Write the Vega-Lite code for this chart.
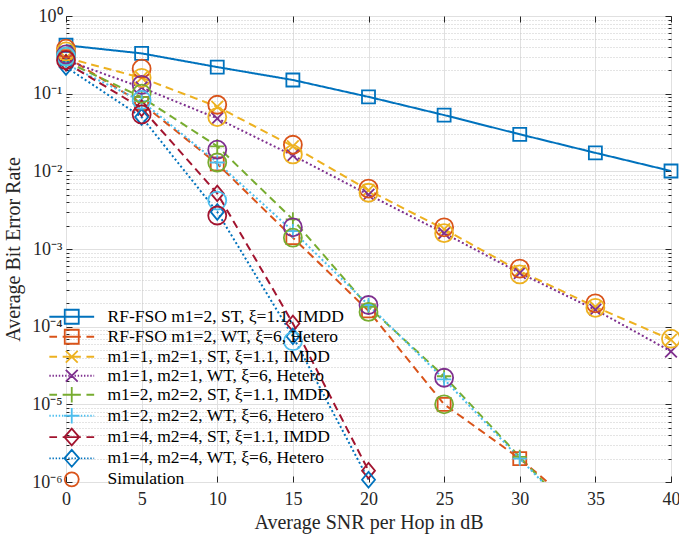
{
"$schema":"https://vega.github.io/schema/vega-lite/v6.json",
"width":605,"height":466,
"autosize":{"type":"none"},
"padding":{"left":66,"top":16,"right":8,"bottom":53},
"config":{"view":{"stroke":"#262626","strokeWidth":1},"font":"Liberation Serif",
"axis":{"labelFont":"Liberation Serif","titleFont":"Liberation Serif","labelColor":"#262626","titleColor":"#262626","tickColor":"#262626","domainColor":"#262626","labelFontSize":18,"titleFontSize":20,"titleFontWeight":"normal","labelOverlap":false,"labelFlush":false}},
"datasets":{
"model":[
{"s":"a","x":0,"y":0.42},{"s":"a","x":5,"y":0.33},{"s":"a","x":10,"y":0.22},{"s":"a","x":15,"y":0.15},{"s":"a","x":20,"y":0.091},{"s":"a","x":25,"y":0.053},{"s":"a","x":30,"y":0.030},{"s":"a","x":35,"y":0.0173},{"s":"a","x":40,"y":0.0101},
{"s":"b","x":0,"y":0.30},{"s":"b","x":5,"y":0.075},{"s":"b","x":10,"y":0.0125},{"s":"b","x":15,"y":0.0014},{"s":"b","x":20,"y":0.00016},{"s":"b","x":25,"y":0.00001},{"s":"b","x":30,"y":0.000002},{"s":"b","x":35,"y":0.0000003},
{"s":"c","x":0,"y":0.29},{"s":"c","x":5,"y":0.16},{"s":"c","x":10,"y":0.068},{"s":"c","x":15,"y":0.021},{"s":"c","x":20,"y":0.0057},{"s":"c","x":25,"y":0.0018},{"s":"c","x":30,"y":0.00052},{"s":"c","x":35,"y":0.00018},{"s":"c","x":40,"y":0.000068},
{"s":"d","x":0,"y":0.27},{"s":"d","x":5,"y":0.12},{"s":"d","x":10,"y":0.048},{"s":"d","x":15,"y":0.016},{"s":"d","x":20,"y":0.005},{"s":"d","x":25,"y":0.0016},{"s":"d","x":30,"y":0.00049},{"s":"d","x":35,"y":0.000165},{"s":"d","x":40,"y":0.000048},
{"s":"e","x":0,"y":0.26},{"s":"e","x":5,"y":0.09},{"s":"e","x":10,"y":0.021},{"s":"e","x":15,"y":0.0024},{"s":"e","x":20,"y":0.00018},{"s":"e","x":25,"y":0.000023},{"s":"e","x":30,"y":0.0000021},{"s":"e","x":35,"y":0.0000002},
{"s":"f","x":0,"y":0.24},{"s":"f","x":5,"y":0.08},{"s":"f","x":10,"y":0.013},{"s":"f","x":15,"y":0.0017},{"s":"f","x":20,"y":0.00019},{"s":"f","x":25,"y":0.000021},{"s":"f","x":30,"y":0.000002},{"s":"f","x":35,"y":0.0000002},
{"s":"g","x":0,"y":0.25},{"s":"g","x":5,"y":0.065},{"s":"g","x":10,"y":0.0052},{"s":"g","x":15,"y":0.00011},{"s":"g","x":20,"y":0.0000014},
{"s":"h","x":0,"y":0.22},{"s":"h","x":5,"y":0.05},{"s":"h","x":10,"y":0.003},{"s":"h","x":15,"y":0.000075},{"s":"h","x":20,"y":0.00000107}
],
"sim":[
{"k":"s1","x":0,"y":0.38},{"k":"s1","x":5,"y":0.21},{"k":"s1","x":10,"y":0.072},{"k":"s1","x":15,"y":0.022},{"k":"s1","x":20,"y":0.006},{"k":"s1","x":25,"y":0.0019},{"k":"s1","x":30,"y":0.00056},{"k":"s1","x":35,"y":0.0002},
{"k":"s2","x":0,"y":0.35},{"k":"s2","x":5,"y":0.16},{"k":"s2","x":10,"y":0.05},{"k":"s2","x":15,"y":0.0165},{"k":"s2","x":20,"y":0.0053},{"k":"s2","x":25,"y":0.0016},{"k":"s2","x":30,"y":0.00047},{"k":"s2","x":35,"y":0.000175},{"k":"s2","x":40,"y":0.00007},
{"k":"s3","x":0,"y":0.32},{"k":"s3","x":5,"y":0.13},{"k":"s3","x":10,"y":0.019},{"k":"s3","x":15,"y":0.0019},{"k":"s3","x":20,"y":0.00019},{"k":"s3","x":25,"y":0.000022},
{"k":"s4","x":0,"y":0.30},{"k":"s4","x":5,"y":0.10},{"k":"s4","x":10,"y":0.013},{"k":"s4","x":15,"y":0.0014},{"k":"s4","x":20,"y":0.000155},{"k":"s4","x":25,"y":0.00001},
{"k":"s5","x":0,"y":0.30},{"k":"s5","x":5,"y":0.083},{"k":"s5","x":10,"y":0.0042},{"k":"s5","x":15,"y":0.000065},
{"k":"s6","x":0,"y":0.27},{"k":"s6","x":5,"y":0.054},{"k":"s6","x":10,"y":0.0027}
]
},
"layer":[
{"data":{"name":"model"},
 "mark":{"type":"line","strokeWidth":2,"clip":true},
 "encoding":{
  "x":{"field":"x","type":"quantitative","scale":{"domain":[0,40],"nice":false,"zero":false},
   "axis":{"orient":"bottom","values":[0,5,10,15,20,25,30,35,40],"grid":true,"gridColor":"#e0e0e0","gridWidth":1,"tickSize":-6,"labelPadding":14,"domain":false,"title":"Average SNR per Hop in dB","titlePadding":4}},
  "y":{"field":"y","type":"quantitative","scale":{"type":"log","domain":[0.000001,1],"nice":false},
   "axis":{"orient":"left","grid":false,"domain":false,"title":"Average Bit Error Rate","titlePadding":8,
    "values":[1,0.9,0.8,0.7,0.6,0.5,0.4,0.3,0.2,0.1,0.09,0.08,0.07,0.06,0.05,0.04,0.03,0.02,0.01,0.009,0.008,0.007,0.006,0.005,0.004,0.003,0.002,0.001,0.0009,0.0008,0.0007,0.0006,0.0005,0.0004,0.0003,0.0002,0.0001,0.00009,0.00008,0.00007,0.00006,0.00005,0.00004,0.00003,0.00002,0.00001,0.000009,0.000008,0.000007,0.000006,0.000005,0.000004,0.000003,0.000002,0.000001],
    "tickSize":{"condition":{"test":"abs(log(datum.value)/LN10 - round(log(datum.value)/LN10)) < 0.001","value":-6},"value":-3},
    "labelPadding":10,
    "labelExpr":"abs(log(datum.value)/LN10 - round(log(datum.value)/LN10)) < 0.001 ? '10' + ['⁰','⁻¹','⁻²','⁻³','⁻⁴','⁻⁵','⁻⁶'][-round(log(datum.value)/LN10)] : ''"}},
  "color":{"field":"s","type":"nominal","legend":null,"scale":{"domain":["a","b","c","d","e","f","g","h"],"range":["#0072BD","#D95319","#EDB120","#7E2F8E","#77AC30","#4DBEEE","#A2142F","#0072BD"]}},
  "strokeDash":{"field":"s","type":"nominal","legend":null,"scale":{"domain":["a","b","c","d","e","f","g","h"],"range":[[1,0],[8,5],[8,5],[2,2.5],[8,5],[2,2.5],[8,5],[2,2.5]]}}
 }},
{"data":{"name":"model"},
 "transform":[{"filter":"datum.y >= 0.000001"}],
 "mark":{"type":"point","filled":false,"size":169,"strokeWidth":1.8,"opacity":1},
 "encoding":{
  "x":{"field":"x","type":"quantitative","axis":null},
  "y":{"field":"y","type":"quantitative","axis":null},
  "color":{"field":"s","type":"nominal","legend":null,"scale":{"domain":["a","b","c","d","e","f","g","h"],"range":["#0072BD","#D95319","#EDB120","#7E2F8E","#77AC30","#4DBEEE","#A2142F","#0072BD"]}},
  "shape":{"field":"s","type":"nominal","legend":null,"scale":{"domain":["a","b","c","d","e","f","g","h"],"range":["M-1,-1H1V1H-1Z","M-1,-1H1V1H-1Z","M-0.9,-0.9L0.9,0.9M-0.9,0.9L0.9,-0.9","M-0.9,-0.9L0.9,0.9M-0.9,0.9L0.9,-0.9","M-1.1,0H1.1M0,-1.1V1.1","M-1.1,0H1.1M0,-1.1V1.1","M0,-1.2L1,0L0,1.2L-1,0Z","M0,-1.2L1,0L0,1.2L-1,0Z"]}}
 }},
{"data":{"name":"sim"},
 "mark":{"type":"point","filled":false,"shape":"circle","size":324,"strokeWidth":1.8,"opacity":1},
 "encoding":{
  "x":{"field":"x","type":"quantitative","axis":null},
  "y":{"field":"y","type":"quantitative","axis":null},
  "color":{"field":"k","type":"nominal","legend":null,"scale":{"domain":["s1","s2","s3","s4","s5","s6"],"range":["#D95319","#EDB120","#7E2F8E","#77AC30","#4DBEEE","#A2142F"]}}
 }},
{"data":{"name":"model"},
 "mark":{"type":"point","opacity":0},
 "encoding":{
  "x":{"field":"x","type":"quantitative","axis":{"orient":"top","values":[0,5,10,15,20,25,30,35,40],"labels":false,"grid":false,"domain":false,"tickSize":-6,"title":null}},
  "y":{"field":"y","type":"quantitative","axis":{"orient":"right","labels":false,"domain":false,"title":null,"grid":true,
    "values":[1,0.9,0.8,0.7,0.6,0.5,0.4,0.3,0.2,0.1,0.09,0.08,0.07,0.06,0.05,0.04,0.03,0.02,0.01,0.009,0.008,0.007,0.006,0.005,0.004,0.003,0.002,0.001,0.0009,0.0008,0.0007,0.0006,0.0005,0.0004,0.0003,0.0002,0.0001,0.00009,0.00008,0.00007,0.00006,0.00005,0.00004,0.00003,0.00002,0.00001,0.000009,0.000008,0.000007,0.000006,0.000005,0.000004,0.000003,0.000002,0.000001],
    "tickSize":{"condition":{"test":"abs(log(datum.value)/LN10 - round(log(datum.value)/LN10)) < 0.001","value":-6},"value":-3},
    "gridDash":{"condition":{"test":"abs(log(datum.value)/LN10 - round(log(datum.value)/LN10)) < 0.001","value":[]},"value":[1,2]},
    "gridColor":{"condition":{"test":"abs(log(datum.value)/LN10 - round(log(datum.value)/LN10)) < 0.001","value":"#e0e0e0"},"value":"#c8c8c8"},
    "gridWidth":1}}
 }},
{"data":{"values":[]},
 "mark":{"type":"point","filled":false,"opacity":1},
 "encoding":{
  "stroke":{"field":"leg","type":"nominal","scale":{"domain":["RF-FSO m1=2, ST, ξ=1.1, IMDD","RF-FSO m1=2, WT, ξ=6, Hetero","m1=1, m2=1, ST, ξ=1.1, IMDD","m1=1, m2=1, WT, ξ=6, Hetero","m1=2, m2=2, ST, ξ=1.1, IMDD","m1=2, m2=2, WT, ξ=6, Hetero","m1=4, m2=4, ST, ξ=1.1, IMDD","m1=4, m2=4, WT, ξ=6, Hetero","Simulation"],"range":["#0072BD","#D95319","#EDB120","#7E2F8E","#77AC30","#4DBEEE","#A2142F","#0072BD","#D95319"]},
   "legend":{"orient":"none","legendX":-3,"legendY":292,"title":null,"padding":0,"labelFont":"Liberation Serif","labelFontSize":17.5,"labelColor":"#000000","labelLimit":400,"symbolSize":196,"symbolStrokeWidth":1.8,"symbolFillColor":"transparent","labelOffset":27,"rowPadding":-3.7}},
  "shape":{"field":"leg","type":"nominal","scale":{"domain":["RF-FSO m1=2, ST, ξ=1.1, IMDD","RF-FSO m1=2, WT, ξ=6, Hetero","m1=1, m2=1, ST, ξ=1.1, IMDD","m1=1, m2=1, WT, ξ=6, Hetero","m1=2, m2=2, ST, ξ=1.1, IMDD","m1=2, m2=2, WT, ξ=6, Hetero","m1=4, m2=4, ST, ξ=1.1, IMDD","m1=4, m2=4, WT, ξ=6, Hetero","Simulation"],"range":[
   "M-3.2,0H3.2M-1,-1H1V1H-1Z",
   "M-3.2,0H-2.1M-1.3,0H1.3M2.1,0H3.2M-1,-1H1V1H-1Z",
   "M-3.2,0H-2.1M-1.3,0H1.3M2.1,0H3.2M-0.85,-0.85L0.85,0.85M-0.85,0.85L0.85,-0.85",
   "M-3.2,0h0.2M-2.75,0h0.2M-2.3,0h0.2M-1.85,0h0.2M-1.4,0h0.2M-0.95,0h0.2M-0.5,0h0.2M-0.05,0h0.2M0.4,0h0.2M0.85,0h0.2M1.3,0h0.2M1.75,0h0.2M2.2,0h0.2M2.65,0h0.2M3.1,0h0.1M-0.85,-0.85L0.85,0.85M-0.85,0.85L0.85,-0.85",
   "M-3.2,0H-2.1M-1.3,0H1.3M2.1,0H3.2M0,-1.1V1.1",
   "M-3.2,0h0.2M-2.75,0h0.2M-2.3,0h0.2M-1.85,0h0.2M-1.4,0h0.2M-0.95,0h0.2M-0.5,0h0.2M-0.05,0h0.2M0.4,0h0.2M0.85,0h0.2M1.3,0h0.2M1.75,0h0.2M2.2,0h0.2M2.65,0h0.2M3.1,0h0.1M-1.1,0H1.1M0,-1.1V1.1",
   "M-3.2,0H-2.1M-1.3,0H1.3M2.1,0H3.2M0,-1.2L1.05,0L0,1.2L-1.05,0Z",
   "M-3.2,0h0.2M-2.75,0h0.2M-2.3,0h0.2M-1.85,0h0.2M-1.4,0h0.2M-0.95,0h0.2M-0.5,0h0.2M-0.05,0h0.2M0.4,0h0.2M0.85,0h0.2M1.3,0h0.2M1.75,0h0.2M2.2,0h0.2M2.65,0h0.2M3.1,0h0.1M0,-1.2L1.05,0L0,1.2L-1.05,0Z",
   "circle"]}}
 }}
],
"resolve":{"scale":{"color":"independent","shape":"independent","stroke":"independent","strokeDash":"independent"},"axis":{"x":"independent","y":"independent"}}
}
